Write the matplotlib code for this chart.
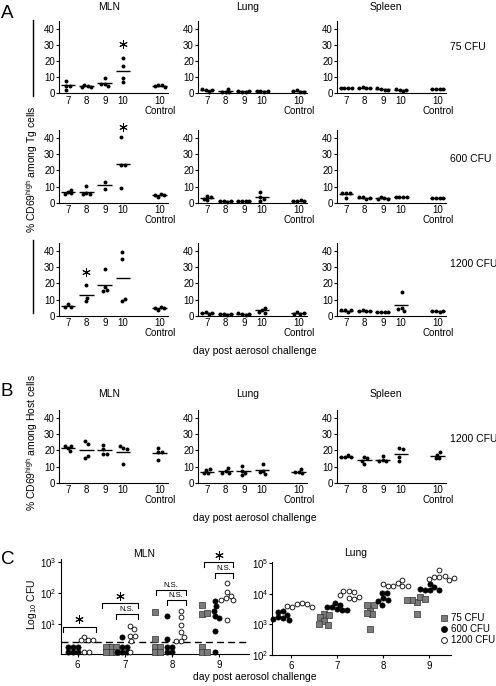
import numpy as np
import matplotlib
matplotlib.use("Agg")
import matplotlib.pyplot as plt
from matplotlib.lines import Line2D

plt.rcParams['font.family'] = ['Liberation Sans', 'DejaVu Sans']
plt.rcParams['mathtext.fontset'] = 'custom'
plt.rcParams['mathtext.rm'] = 'Liberation Sans'
plt.rcParams['mathtext.it'] = 'Liberation Sans:italic'

# ---------------- data ----------------
day_labels_AB = ["7", "8", "9", "10", "10\nControl"]
tissues_AB = ["MLN", "Lung", "Spleen"]
doses_A = ["75 CFU", "600 CFU", "1200 CFU"]

# Panel A : % CD69high among Tg cells  (groups: d7, d8, d9, d10, control d10)
A_75_MLN = [[7.5, 2.3, 4.8, 4.8], [4.4, 3.8, 5.4, 3.8], [9.4, 5.8, 4.8, 5.8], [22.0, 17.0, 6.7, 9.2], [5.2, 4.2, 5.4, 4.4]]
A_75_Lung = [[2.0, 1.0, 2.5, 2.0], [1.0, 0.5, 2.8, 0.8], [1.0, 0.8, 1.2, 1.5], [1.5, 1.0, 1.5, 1.2], [1.0, 0.8, 2.0, 1.3]]
A_75_Spleen = [[3.2, 3.3, 3.3, 3.2], [3.3, 3.0, 4.0, 3.3], [2.8, 2.0, 3.0, 2.2], [2.3, 1.2, 2.5, 2.0], [2.8, 2.5, 2.8, 2.5]]
A_600_MLN = [[6.7, 5.7, 8.0, 5.3], [10.2, 5.7, 5.3, 5.3], [13.0, 8.4], [40.4, 23.3, 23.3, 8.8], [5.3, 4.7, 3.5, 4.5]]
A_600_Lung = [[4.2, 1.7, 3.8, 2.5], [1.0, 0.5, 1.0, 0.8], [1.0, 1.0, 1.2, 1.0], [6.9, 3.8, 1.3, 2.1], [1.0, 1.5, 1.0, 1.2]]
A_600_Spleen = [[5.8, 3.1, 5.8, 5.8], [3.5, 2.5, 3.5, 2.8], [2.8, 2.5, 3.5, 2.5], [3.5, 3.3, 3.5, 3.5], [3.0, 2.8, 3.2, 2.8]]
A_1200_MLN = [[7.1, 5.6, 5.6], [19.2, 8.8, 10.9], [28.6, 17.5, 15.6, 15.0], [39.4, 35.2, 8.8, 10.2], [5.3, 4.5, 3.5, 5.0]]
A_1200_Lung = [[2.0, 1.0, 1.5, 1.8], [1.0, 0.5, 1.2, 0.8], [1.2, 0.6, 1.5, 1.0], [3.6, 5.0, 1.9, 2.5], [1.0, 1.5, 2.0, 1.0]]
A_1200_Spleen = [[3.5, 2.5, 3.5, 3.3], [3.0, 3.0, 3.5, 3.0], [2.5, 2.0, 2.5, 2.5], [14.4, 4.6, 2.7, 4.0], [3.0, 2.5, 3.0, 2.8]]
# significance stars: (dose row, tissue, group index, y value)
A_stars = [(0, "MLN", 3, 30.3), (1, "MLN", 3, 46.8), (2, "MLN", 1, 26.9)]

# Panel B : % CD69high among Host cells, 1200 CFU
B_MLN = [[21.5, 22.5, 19.5, 22.5], [25.8, 24.2, 15.4, 16.6], [23.6, 20.7, 18.0, 18.0], [21.7, 21.1, 11.5, 22.8], [19.1, 14.0, 19.1, 21.5]]
B_Lung = [[7.8, 8.2, 5.7, 5.7], [7.2, 8.8, 5.7, 6.2], [7.2, 10.5, 4.7, 6.2], [7.2, 11.3, 5.1, 6.8], [6.4, 8.4, 5.7, 6.4]]
B_Spleen = [[15.6, 17.0, 15.6, 15.6], [16.0, 15.0, 11.5, 13.5], [13.9, 16.6, 13.3, 13.3], [21.5, 20.7, 13.3, 16.0], [17.0, 18.7, 15.0, 15.0]]

# Panel C : Log10 CFU (values below detection plotted in two rows at 1.9 / 1.3)
days_C = [6, 7, 8, 9]
C_groups = ["75 CFU", "600 CFU", "1200 CFU"]
C_MLN_75 = [[], [1.9, 1.9, 1.9, 1.3, 1.3, 1.3], [24.4, 3.4, 1.9, 1.9, 1.3, 1.3], [42, 22, 23, 1.9, 1.3, 1.3]]
C_MLN_600 = [[1.9, 1.9, 1.9, 1.3, 1.3, 1.3], [4.0, 1.9, 1.9, 1.3, 1.3, 1.3], [18.9, 3.3, 1.9, 1.9, 1.3, 1.3], [56, 39, 27.5, 19, 16.4, 6.2, 1.3]]
C_MLN_1200 = [[4.0, 3.1, 3.1, 3.1, 1.3, 1.3], [8.9, 7.0, 4.2, 4.2, 2.9, 1.3], [27.6, 16.8, 9.5, 5.5, 4.0, 2.9, 2.9], [209, 110, 84, 72, 62, 60, 14]]
C_detect_limit = 2.63
C_Lung_75 = [[], [2200, 2100, 1700, 1250, 980, 1030], [3200, 4200, 4400, 2200, 2300, 720], [5600, 7600, 6300, 6900, 6300, 2200]]
C_Lung_600 = [[2650, 2000, 2600, 1600, 1750, 1400, 1500], [5000, 4400, 3700, 3700, 3200, 3000, 3000],
              [10500, 10500, 7200, 5900, 6300, 4200], [21000, 13500, 16500, 13000, 13500, 14500]]
C_Lung_1200 = [[5000, 4500, 4800, 3800, 3800, 4000], [12500, 11500, 12800, 9300, 7200, 7000, 7600],
               [22000, 29000, 18000, 18000, 18500, 18000, 21000], [60000, 36000, 37000, 35000, 29000, 30000, 32000]]
# brackets: (x_start, x_end, y_top, y_leg, label, label_y)
C_brackets = [
    (5.69, 6.38, 8.0, 5.5, "*", 14.5),
    (6.51, 7.27, 49.8, 34.3, "*", 83.6),
    (6.81, 7.27, 21.0, 14.5, "N.S.", 29.0),
    (7.66, 8.29, 128, 88, "N.S.", 185),
    (7.89, 8.29, 61, 42, "N.S.", 86),
    (8.68, 9.30, 1000, 690, "*", 1700),
    (8.92, 9.30, 460, 318, "N.S.", 650),
]

# ---------------- layout ----------------
W, H, DPI = 496, 686, 100
fig = plt.figure(figsize=(W / DPI, H / DPI), dpi=DPI, facecolor='white')

def fx(x):
    return x / W

def fy(y):
    return 1 - y / H

def add_ax(left, bottom, width, height):
    return fig.add_axes([fx(left), fy(bottom), width / W, height / H])

FS = 7
LW = 0.8

def style_ax(ax):
    for s in ['top', 'right']:
        ax.spines[s].set_visible(False)
    for s in ['left', 'bottom']:
        ax.spines[s].set_linewidth(LW)
    ax.tick_params(axis='both', labelsize=FS, width=LW, length=2, pad=1)
    ax.patch.set_alpha(0)

def swarm_x(ax, xc, vals, d_px):
    vals = np.asarray(vals, float)
    disp = ax.transData.transform(np.column_stack([np.full(len(vals), xc), vals]))
    x0 = disp[0, 0]
    ys = disp[:, 1]
    placed = []
    for y in ys:
        cands = [0.0]
        for px, py in placed:
            dy = abs(py - y)
            if dy < d_px:
                dx = np.sqrt(d_px ** 2 - dy ** 2)
                cands += [px - x0 + dx, px - x0 - dx]
        cands = sorted(cands, key=abs)
        for c in cands:
            if all((c + x0 - px) ** 2 + (y - py) ** 2 >= d_px ** 2 - 1e-6 for px, py in placed):
                placed.append((x0 + c, y))
                break
    xs = np.array([p[0] for p in placed])
    xs = xs - ((xs.min() + xs.max()) / 2 - x0)
    back = ax.transData.inverted().transform(np.column_stack([xs, ys]))
    return back[:, 0]

STAR = dict(marker=(6, 2, 0), ms=6.0, mew=0.7, color='black', ls='none', clip_on=False)

pos_AB = np.array([1, 2, 3, 4, 6])
col_left = [59, 198, 337]
col_w = 109
ax_h = 72.7

def dot_panel(ax, groups):
    ax.set_xlim(0.5, 6.45)
    ax.set_ylim(0, 45)
    ax.set_yticks([0, 10, 20, 30, 40])
    ax.set_xticks(pos_AB)
    ax.set_xticklabels(day_labels_AB, linespacing=0.95)
    style_ax(ax)
    ax.tick_params(axis='x', length=0, pad=2)
    for p, g in zip(pos_AB, groups):
        xs = swarm_x(ax, p, g, 3.7)
        ax.scatter(xs, g, s=8, color='black', linewidths=0, clip_on=False, zorder=3)
        m = np.mean(g)
        ax.plot([p - 0.4, p + 0.4], [m, m], color='black', lw=1.0, solid_capstyle='butt', clip_on=False, zorder=2)

# Panel A
A_data = [[A_75_MLN, A_75_Lung, A_75_Spleen],
          [A_600_MLN, A_600_Lung, A_600_Spleen],
          [A_1200_MLN, A_1200_Lung, A_1200_Spleen]]
row_bottom = [93.3, 202.7, 315.7]
A_axes = []
for r in range(3):
    row = []
    for c in range(3):
        ax = add_ax(col_left[c], row_bottom[r], col_w, ax_h)
        dot_panel(ax, A_data[r][c])
        row.append(ax)
    A_axes.append(row)
for r, tis, gi, yv in A_stars:
    ax = A_axes[r][tissues_AB.index(tis)]
    ax.plot([pos_AB[gi]], [yv], **STAR)

# Panel B
B_data = [B_MLN, B_Lung, B_Spleen]
for c in range(3):
    ax = add_ax(col_left[c], 482.7, col_w, ax_h)
    dot_panel(ax, B_data[c])

# Panel C
mk = {"75 CFU": dict(marker='s', s=13, facecolor='#7a7a7a', edgecolor='#333333', linewidths=0.5),
      "600 CFU": dict(marker='o', s=14, facecolor='black', edgecolor='black', linewidths=0.5),
      "1200 CFU": dict(marker='o', s=12, facecolor='white', edgecolor='black', linewidths=0.6)}

axC1 = add_ax(61, 654.3, 187.7, 95)
axC1.set_yscale('log')
axC1.set_ylim(10 ** 0.032, 10 ** 3.097)
axC1.set_xlim(5.645, 9.63)
style_ax(axC1)
axC1.set_yticks([10, 100, 1000])
axC1.set_yticklabels([r'$10^1$', r'$10^2$', r'$10^3$'])
axC1.minorticks_off()
axC1.set_xticks(days_C)
axC1.set_xticklabels([str(d) for d in days_C])
axC1.tick_params(axis='x', length=2, pad=2)
axC1.axhline(C_detect_limit, color='black', lw=1.0, ls=(0, (5, 3)), zorder=1)
for di, d in enumerate(days_C):
    sets = [C_MLN_75[di], C_MLN_600[di], C_MLN_1200[di]]
    offs = [-0.3, -0.05, 0.17] if sets[0] else [None, -0.11, 0.19]
    for name, vals, off in zip(C_groups, sets, offs):
        if not vals:
            continue
        xs = swarm_x(axC1, d + off, vals, 5.0)
        axC1.scatter(xs, vals, clip_on=False, zorder=3, **mk[name])
for x0, x1, yt, yl, lab, ly in C_brackets:
    axC1.plot([x0, x0, x1, x1], [yl, yt, yt, yl], color='black', lw=0.8, clip_on=False)
    if lab == "*":
        axC1.plot([(x0 + x1) / 2], [ly], **STAR)
    else:
        axC1.text((x0 + x1) / 2, ly, lab, fontsize=5.5, ha='center', va='center')

axC2 = add_ax(272.3, 655, 178.4, 93.3)
axC2.set_yscale('log')
axC2.set_ylim(100, 10 ** 5.05)
axC2.set_xlim(5.59, 9.47)
style_ax(axC2)
axC2.set_yticks([100, 1000, 10000, 100000])
axC2.set_yticklabels([r'$10^2$', r'$10^3$', r'$10^4$', r'$10^5$'])
axC2.minorticks_off()
axC2.set_xticks(days_C)
axC2.set_xticklabels([str(d) for d in days_C])
axC2.tick_params(axis='x', length=2, pad=2)
for di, d in enumerate(days_C):
    sets = [C_Lung_75[di], C_Lung_600[di], C_Lung_1200[di]]
    offs = [-0.28, 0.0, 0.27] if sets[0] else [None, -0.22, 0.18]
    for name, vals, off in zip(C_groups, sets, offs):
        if not vals:
            continue
        xs = swarm_x(axC2, d + off, vals, 5.2)
        axC2.scatter(xs, vals, clip_on=False, zorder=3, **mk[name])

handles = [Line2D([], [], ls='none', marker='s', ms=4.2, mfc='#7a7a7a', mec='#333333', mew=0.5),
           Line2D([], [], ls='none', marker='o', ms=4.4, mfc='black', mec='black', mew=0.5),
           Line2D([], [], ls='none', marker='o', ms=4.2, mfc='white', mec='black', mew=0.6)]
fig.legend(handles, C_groups, loc='upper left', bbox_to_anchor=(fx(441), fy(613)),
           bbox_transform=fig.transFigure, frameon=False, fontsize=FS, handlelength=0.7,
           handletextpad=0.35, labelspacing=0.12, borderpad=0, borderaxespad=0)

# ---------------- texts ----------------
TFS = 7.5
title_x = [109, 248, 385.5]
for t, x in zip(tissues_AB, title_x):
    fig.text(fx(x), fy(7), t, fontsize=TFS, ha='center', va='center')
    fig.text(fx(x), fy(394), t, fontsize=TFS, ha='center', va='center')
fig.text(fx(144.5), fy(554), "MLN", fontsize=TFS, ha='center', va='center')
fig.text(fx(355.8), fy(553.3), "Lung", fontsize=TFS, ha='center', va='center')

for lab, y in zip(doses_A, [46.7, 159, 264]):
    fig.text(fx(450), fy(y), lab, fontsize=TFS, ha='left', va='center')
fig.text(fx(450), fy(439.3), "1200 CFU", fontsize=TFS, ha='left', va='center')

for y in [351, 518, 677]:
    fig.text(fx(255), fy(y), "day post aerosol challenge", fontsize=TFS, ha='center', va='center')

for lab, y in zip(["A", "B", "C"], [13.5, 391.5, 559.5]):
    fig.text(fx(1), fy(y), lab, fontsize=13.5, ha='left', va='center')

fig.text(fx(32), fy(169.5), r"% CD69$^{\mathrm{high}}$ among Tg cells", fontsize=TFS, rotation=90, ha='center', va='center')
fig.add_artist(Line2D([fx(33), fx(33)], [fy(20), fy(96)], color='black', lw=1.0, transform=fig.transFigure))
fig.add_artist(Line2D([fx(33), fx(33)], [fy(240), fy(313)], color='black', lw=1.0, transform=fig.transFigure))
fig.text(fx(32), fy(443), r"% CD69$^{\mathrm{high}}$ among Host cells", fontsize=TFS, rotation=90, ha='center', va='center')
fig.text(fx(32), fy(604), r"Log$_{10}$ CFU", fontsize=TFS, rotation=90, ha='center', va='center')

fig.savefig("out.png", dpi=DPI, facecolor='white')
